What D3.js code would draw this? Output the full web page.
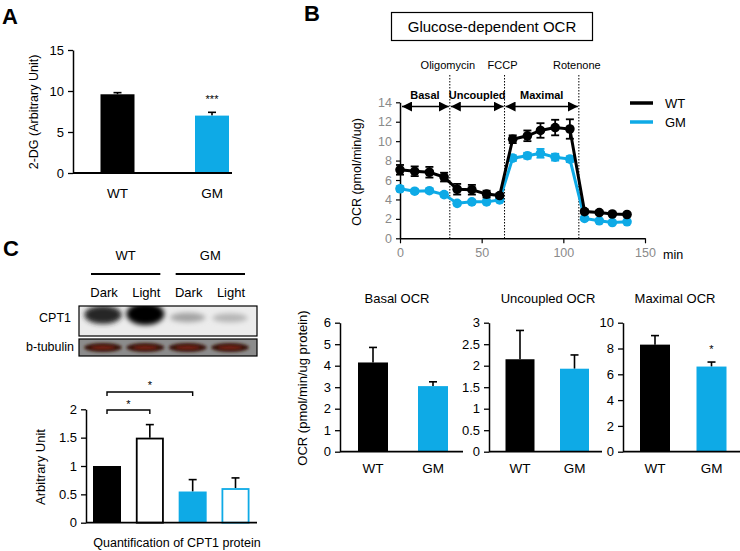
<!DOCTYPE html>
<html><head><meta charset="utf-8">
<script src="https://cdn.jsdelivr.net/npm/d3@7"></script>
<style>
html,body{margin:0;padding:0;background:#fff;}
svg{display:block;font-family:"Liberation Sans",Arial,Helvetica,sans-serif;}
</style></head>
<body>
<svg id="fig" width="740" height="551"></svg>
<script>
// ---------------- DATA ----------------
const groups = ["WT", "GM"];
// Panel A: 2-DG uptake
const dgValues = [9.6, 7.0];
const dgErrors = [0.2, 0.4];
const dgTicks = [0, 5, 10, 15];

// Panel B: OCR time course
const ocrTimes = [0, 9, 18, 27, 35, 44, 53, 61, 69, 78, 86, 95, 104, 113, 122, 130, 139];
const ocrWT    = [7.05, 6.9, 6.8, 6.3, 5.05, 5.0, 4.55, 4.4, 10.2, 10.55, 11.1, 11.4, 11.25, 2.75, 2.65, 2.5, 2.45];
const ocrWTerr = [0.5, 0.5, 0.55, 0.45, 0.55, 0.5, 0.35, 0.2, 0.4, 0.55, 0.75, 0.8, 1.0, 0.2, 0.15, 0.15, 0.15];
const ocrGM    = [5.1, 4.85, 4.9, 4.5, 3.6, 3.75, 3.75, 3.95, 8.25, 8.5, 8.75, 8.35, 8.15, 2.05, 1.8, 1.62, 1.7];
const ocrGMerr = [0.25, 0.2, 0.2, 0.2, 0.2, 0.2, 0.2, 0.15, 0.3, 0.3, 0.45, 0.35, 0.3, 0.15, 0.15, 0.1, 0.1];
const ocrXTicks = [0, 50, 100, 150];
const ocrYTicks = [0, 2, 4, 6, 8, 10, 12, 14];
const injections = [{name: "Oligomycin", t: 30.5}, {name: "FCCP", t: 64}, {name: "Rotenone", t: 109.5}];
const phases = [{name: "Basal", from: 0, to: 30.5}, {name: "Uncoupled", from: 30.5, to: 64}, {name: "Maximal", from: 64, to: 109.5}];

// Panel B: summary bars
const basalValues = [4.15, 3.05], basalErrors = [0.7, 0.2], basalTicks = [0, 1, 2, 3, 4, 5, 6];
const uncoupledValues = [2.15, 1.93], uncoupledErrors = [0.67, 0.32], uncoupledTicks = [0, 0.5, 1, 1.5, 2, 2.5, 3];
const maximalValues = [8.3, 6.6], maximalErrors = [0.7, 0.35], maximalTicks = [0, 2, 4, 6, 8, 10];

// Panel C: CPT1 blot and quantification
const lanes = ["WT Dark", "WT Light", "GM Dark", "GM Light"];
const laneLabels = ["Dark", "Light", "Dark", "Light"];
const cpt1Band = [0.85, 1.0, 0.3, 0.22];     // relative band darkness
const tubulinBand = [0.9, 0.95, 0.95, 0.9];
const cptValues = [1.0, 1.5, 0.55, 0.61];
const cptErrors = [0, 0.23, 0.21, 0.18];
const cptTicks = [0, 0.5, 1, 1.5, 2];

// ---------------- STYLE ----------------
const BLUE = "#0eaae6";
const FONT = '"Liberation Sans",Arial,Helvetica,sans-serif';
const svg = d3.select("#fig");
svg.append("rect").attr("width", 740).attr("height", 551).attr("fill", "#fff");

function fmt(v){ return String(v); }

// generic bar chart
function barChart(o) {
  const g = svg.append("g");
  const y = d3.scaleLinear().domain(o.domain).range([o.yBottom, o.yTop]);
  const x = d3.scalePoint().domain(o.cats).range(o.centers);
  o.cats.forEach((c, i) => {
    const v = o.values[i];
    const cx = x(c);
    if (o.errors[i] > 0) {
      const ye = y(v + o.errors[i]);
      g.append("line").attr("x1", cx).attr("x2", cx).attr("y1", y(v)).attr("y2", ye)
        .attr("stroke", "#000").attr("stroke-width", 1.6);
      g.append("line").attr("x1", cx - 4).attr("x2", cx + 4).attr("y1", ye).attr("y2", ye)
        .attr("stroke", "#000").attr("stroke-width", 1.6);
    }
    const sw = o.strokes[i] ? 1.8 : 0;
    g.append("rect")
      .attr("x", cx - o.barW / 2 + sw / 2).attr("width", o.barW - sw)
      .attr("y", y(v) + sw / 2).attr("height", y(0) - y(v) - sw / 2)
      .attr("fill", o.fills[i])
      .attr("stroke", o.strokes[i] || "none").attr("stroke-width", sw);
  });
  const ay = g.append("g").attr("transform", `translate(${o.axisX},0)`)
    .call(d3.axisLeft(y).tickValues(o.ticks).tickFormat(fmt).tickSize(5).tickSizeOuter(0).tickPadding(4));
  ay.select(".domain").attr("stroke", "#000").attr("stroke-width", 1.5);
  ay.selectAll(".tick line").attr("stroke", "#000").attr("stroke-width", 1.3);
  ay.selectAll(".tick text").attr("font-size", 13).attr("font-family", FONT).attr("fill", "#000");
  g.append("line").attr("x1", o.axisX).attr("x2", o.axisEnd).attr("y1", y(0)).attr("y2", y(0))
    .attr("stroke", "#000").attr("stroke-width", 1.8);
  if (o.xLabels) {
    o.cats.forEach((c, i) => {
      g.append("text").attr("x", x(c)).attr("y", o.xLabelY).attr("text-anchor", "middle")
        .attr("font-size", 13.5).text(o.xLabels[i]);
    });
  }
  if (o.stars) {
    o.stars.forEach(s => {
      g.append("text").attr("x", x(o.cats[s.i])).attr("y", y(o.values[s.i] + o.errors[s.i]) - s.dy)
        .attr("text-anchor", "middle").attr("font-size", 11).text(s.text);
    });
  }
  return {g, x, y};
}

// ---------------- PANEL A ----------------
svg.append("text").attr("x", 2).attr("y", 24).attr("font-size", 22).attr("font-weight", "bold").text("A");
barChart({
  cats: groups, values: dgValues, errors: dgErrors, fills: ["#000", BLUE], strokes: [null, null],
  domain: [0, 15], yBottom: 173, yTop: 50, centers: [117.5, 212], barW: 34,
  axisX: 73, axisEnd: 232, ticks: dgTicks, xLabels: groups, xLabelY: 198,
  stars: [{i: 1, text: "***", dy: 9}]
});
svg.append("text").attr("transform", "translate(38,112) rotate(-90)").attr("text-anchor", "middle")
  .attr("font-size", 12.5).text("2-DG (Arbitrary Unit)");

// ---------------- PANEL B ----------------
svg.append("text").attr("x", 304).attr("y", 21).attr("font-size", 22).attr("font-weight", "bold").text("B");
svg.append("rect").attr("x", 391.5).attr("y", 12.5).attr("width", 201).attr("height", 28)
  .attr("fill", "none").attr("stroke", "#000").attr("stroke-width", 1.2);
svg.append("text").attr("x", 492).attr("y", 32).attr("text-anchor", "middle").attr("font-size", 15)
  .text("Glucose-dependent OCR");

const lx = d3.scaleLinear().domain([0, 150]).range([400, 645]);
const ly = d3.scaleLinear().domain([0, 14]).range([238.3, 102.3]);
const lg = svg.append("g");

injections.forEach(d => {
  lg.append("line").attr("x1", lx(d.t)).attr("x2", lx(d.t)).attr("y1", 75).attr("y2", ly(0))
    .attr("stroke", "#000").attr("stroke-width", 1).attr("stroke-dasharray", "1.5,1.5");
  lg.append("text").attr("x", lx(d.t) - 2).attr("y", 69).attr("text-anchor", "middle")
    .attr("font-size", 11).text(d.name);
});
const defs = svg.append("defs");
defs.append("marker").attr("id", "ah").attr("viewBox", "0 0 10 10").attr("refX", 10).attr("refY", 5)
  .attr("markerWidth", 10).attr("markerHeight", 10).attr("markerUnits", "userSpaceOnUse").attr("orient", "auto-start-reverse")
  .append("path").attr("d", "M0,0 L10,5 L0,10 Z").attr("fill", "#000");
phases.forEach(p => {
  const x1 = Math.max(lx(p.from), 401) + 1, x2 = lx(p.to) - 1;
  lg.append("line").attr("x1", x1).attr("x2", x2).attr("y1", 106.5).attr("y2", 106.5)
    .attr("stroke", "#000").attr("stroke-width", 1.6)
    .attr("marker-start", "url(#ah)").attr("marker-end", "url(#ah)");
  lg.append("text").attr("x", (lx(p.from) + lx(p.to)) / 2).attr("y", 99).attr("text-anchor", "middle")
    .attr("font-size", 11).attr("font-weight", "bold").text(p.name);
});

const axL = lg.append("g").attr("transform", "translate(400,0)")
  .call(d3.axisLeft(ly).tickValues(ocrYTicks).tickSize(4).tickSizeOuter(0).tickPadding(4));
const axB = lg.append("g").attr("transform", `translate(0,${ly(0)})`)
  .call(d3.axisBottom(lx).tickValues(ocrXTicks).tickSize(5).tickSizeOuter(0).tickPadding(5));
[axL, axB].forEach(a => {
  a.select(".domain").attr("stroke", "#000").attr("stroke-width", 1.5);
  a.selectAll(".tick line").attr("stroke", "#000").attr("stroke-width", 1.2);
  a.selectAll(".tick text").attr("font-size", 12.5).attr("font-family", FONT).attr("fill", "#8a8a8a");
});
lg.append("text").attr("x", 663).attr("y", 259).attr("font-size", 12.5).text("min");
lg.append("text").attr("transform", "translate(361,172) rotate(-90)").attr("text-anchor", "middle")
  .attr("font-size", 12.5).text("OCR (pmol/min/ug)");

function series(vals, errs, color, errColor) {
  const pts = ocrTimes.map((t, i) => ({t, v: vals[i], e: errs[i]}));
  const line = d3.line().x(d => lx(d.t)).y(d => ly(d.v));
  lg.append("path").datum(pts).attr("d", line).attr("fill", "none").attr("stroke", color).attr("stroke-width", 3);
  pts.forEach(d => {
    const cx = lx(d.t);
    lg.append("line").attr("x1", cx).attr("x2", cx).attr("y1", ly(d.v - d.e)).attr("y2", ly(d.v + d.e))
      .attr("stroke", errColor).attr("stroke-width", 1.8);
    [d.v - d.e, d.v + d.e].forEach(vv => lg.append("line").attr("x1", cx - 4).attr("x2", cx + 4)
      .attr("y1", ly(vv)).attr("y2", ly(vv)).attr("stroke", errColor).attr("stroke-width", 1.8));
    lg.append("circle").attr("cx", cx).attr("cy", ly(d.v)).attr("r", 4.8).attr("fill", color);
  });
}
series(ocrGM, ocrGMerr, BLUE, BLUE);
series(ocrWT, ocrWTerr, "#000", "#000");

[{n: "WT", c: "#000", y: 103}, {n: "GM", c: BLUE, y: 122}].forEach(d => {
  lg.append("line").attr("x1", 630).attr("x2", 653).attr("y1", d.y).attr("y2", d.y)
    .attr("stroke", d.c).attr("stroke-width", 3.5);
  lg.append("text").attr("x", 665).attr("y", d.y + 5).attr("font-size", 13).text(d.n);
});

const titles = [{t: "Basal OCR", x: 397}, {t: "Uncoupled OCR", x: 548}, {t: "Maximal OCR", x: 675}];
titles.forEach(d => svg.append("text").attr("x", d.x).attr("y", 303).attr("text-anchor", "middle")
  .attr("font-size", 13).text(d.t));
barChart({cats: groups, values: basalValues, errors: basalErrors, fills: ["#000", BLUE], strokes: [null, null],
  domain: [0, 6], yBottom: 451.7, yTop: 322.7, centers: [373, 433], barW: 30,
  axisX: 340, axisEnd: 463, ticks: basalTicks, xLabels: groups, xLabelY: 473});
barChart({cats: groups, values: uncoupledValues, errors: uncoupledErrors, fills: ["#000", BLUE], strokes: [null, null],
  domain: [0, 3], yBottom: 451.7, yTop: 322.7, centers: [520, 574.5], barW: 29,
  axisX: 489, axisEnd: 602, ticks: uncoupledTicks, xLabels: groups, xLabelY: 473});
barChart({cats: groups, values: maximalValues, errors: maximalErrors, fills: ["#000", BLUE], strokes: [null, null],
  domain: [0, 10], yBottom: 451.7, yTop: 322.7, centers: [655, 711.5], barW: 30,
  axisX: 623, axisEnd: 740, ticks: maximalTicks, xLabels: groups, xLabelY: 473,
  stars: [{i: 1, text: "*", dy: 9}]});
svg.append("text").attr("transform", "translate(307,388) rotate(-90)").attr("text-anchor", "middle")
  .attr("font-size", 13).text("OCR (pmol/min/ug protein)");

// ---------------- PANEL C ----------------
svg.append("text").attr("x", 3).attr("y", 256).attr("font-size", 22).attr("font-weight", "bold").text("C");
const laneX = d3.scalePoint().domain(lanes).range([104, 231]);
[{n: "WT", a: 0, b: 1}, {n: "GM", a: 2, b: 3}].forEach(d => {
  const xa = laneX(lanes[d.a]) - 13, xb = laneX(lanes[d.b]) + 14;
  svg.append("line").attr("x1", xa).attr("x2", xb).attr("y1", 274).attr("y2", 274)
    .attr("stroke", "#000").attr("stroke-width", 2);
  svg.append("text").attr("x", (xa + xb) / 2).attr("y", 260).attr("text-anchor", "middle")
    .attr("font-size", 13).text(d.n);
});
lanes.forEach((l, i) => svg.append("text").attr("x", laneX(l)).attr("y", 297).attr("text-anchor", "middle")
  .attr("font-size", 13).text(laneLabels[i]));

const blur = defs.append("filter").attr("id", "blur").attr("x", "-50%").attr("y", "-50%").attr("width", "200%").attr("height", "200%");
blur.append("feGaussianBlur").attr("stdDeviation", 2.6);
const blur2 = defs.append("filter").attr("id", "blur2").attr("x", "-50%").attr("y", "-50%").attr("width", "200%").attr("height", "200%");
blur2.append("feGaussianBlur").attr("stdDeviation", 1.6);
const cg = defs.append("clipPath").attr("id", "clipC"); cg.append("rect").attr("x", 79).attr("y", 306).attr("width", 178).attr("height", 30);
const tg = defs.append("clipPath").attr("id", "clipT"); tg.append("rect").attr("x", 79).attr("y", 339).attr("width", 178).attr("height", 17);

svg.append("rect").attr("x", 79).attr("y", 306).attr("width", 178).attr("height", 30).attr("fill", "#ececec");
const cBands = svg.append("g").attr("clip-path", "url(#clipC)");
lanes.forEach((l, i) => {
  const s = cpt1Band[i];
  const dark = Math.round(230 - 225 * s);
  cBands.append("ellipse").attr("cx", laneX(l) - 1).attr("cy", 314 + (1 - s) * 5)
    .attr("rx", 17 + 2 * s).attr("ry", 4 + 7 * s * s)
    .attr("fill", `rgb(${dark},${dark},${dark})`).attr("filter", "url(#blur)");
});
svg.append("rect").attr("x", 79).attr("y", 306).attr("width", 178).attr("height", 30)
  .attr("fill", "none").attr("stroke", "#000").attr("stroke-width", 1.2);
svg.append("text").attr("x", 71).attr("y", 322).attr("text-anchor", "end").attr("font-size", 12.5).text("CPT1");

svg.append("rect").attr("x", 79).attr("y", 339).attr("width", 178).attr("height", 17).attr("fill", "#8c8c8c");
const tBands = svg.append("g").attr("clip-path", "url(#clipT)");
lanes.forEach((l, i) => {
  const s = tubulinBand[i];
  tBands.append("ellipse").attr("cx", laneX(l) - 1).attr("cy", 347.5)
    .attr("rx", 17 + 2 * s).attr("ry", 4.5)
    .attr("fill", "#3a1410").attr("filter", "url(#blur2)");
  tBands.append("ellipse").attr("cx", laneX(l) - 1).attr("cy", 347.5)
    .attr("rx", 12).attr("ry", 1.8)
    .attr("fill", "#7a2418").attr("filter", "url(#blur2)");
});
svg.append("rect").attr("x", 79).attr("y", 339).attr("width", 178).attr("height", 17)
  .attr("fill", "none").attr("stroke", "#000").attr("stroke-width", 1.2);
svg.append("text").attr("x", 74).attr("y", 351).attr("text-anchor", "end").attr("font-size", 12.5).text("b-tubulin");

const qc = barChart({cats: lanes, values: cptValues, errors: cptErrors,
  fills: ["#000", "#fff", BLUE, "#fff"], strokes: [null, "#000", null, BLUE],
  domain: [0, 2], yBottom: 522.7, yTop: 409.3, centers: [107, 235.5], barW: 28,
  axisX: 86, axisEnd: 257, ticks: cptTicks});
[{a: 0, b: 1, y: 410, star: 404}, {a: 0, b: 2, y: 392, star: 385}].forEach(d => {
  const xa = qc.x(lanes[d.a]), xb = qc.x(lanes[d.b]);
  svg.append("path").attr("d", `M${xa},${d.y + 4}V${d.y}H${xb}V${d.y + 4}`)
    .attr("fill", "none").attr("stroke", "#000").attr("stroke-width", 1.4);
  svg.append("text").attr("x", (xa + xb) / 2).attr("y", d.star + 4).attr("text-anchor", "middle")
    .attr("font-size", 11).text("*");
});
svg.append("text").attr("transform", "translate(45,467) rotate(-90)").attr("text-anchor", "middle")
  .attr("font-size", 13).text("Arbitrary Unit");
svg.append("text").attr("x", 177).attr("y", 547).attr("text-anchor", "middle").attr("font-size", 12.5)
  .text("Quantification of CPT1 protein");
</script>
</body></html>
